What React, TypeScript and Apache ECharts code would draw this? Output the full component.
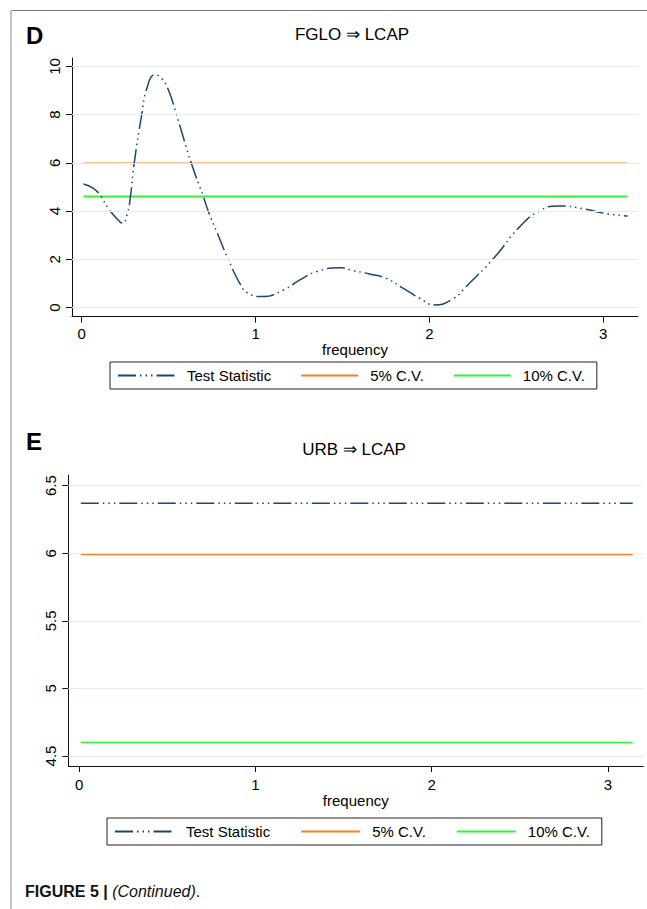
import React, { useEffect, useRef } from "react";
import * as echarts from "echarts";

// ---- Data ----
const seriesNames = ["Test Statistic", "5% C.V.", "10% C.V."];
const xTicks = [0, 1, 2, 3];
const yTicksD = [0, 2, 4, 6, 8, 10];
const yTicksE = [4.5, 5, 5.5, 6, 6.5];
const freqRange = [0.01, 3.14];

// Panel D: FGLO => LCAP
const freqD = [0.01, 0.067, 0.105, 0.153, 0.2, 0.235, 0.262, 0.28, 0.302, 0.345, 0.375, 0.42, 0.46, 0.5, 0.545, 0.63, 0.7, 0.728, 0.785, 0.843, 0.91, 0.956, 1.04, 1.16, 1.255, 1.35, 1.485, 1.56, 1.66, 1.75, 1.85, 1.945, 2.03, 2.14, 2.21, 2.37, 2.52, 2.635, 2.74, 2.9, 3.0, 3.14];
const testStatD = [5.13, 4.95, 4.67, 4.12, 3.71, 3.5, 3.9, 4.6, 6.0, 8.0, 9.1, 9.65, 9.5, 9.0, 8.0, 6.0, 4.6, 4.0, 3.0, 2.0, 1.0, 0.6, 0.46, 0.73, 1.15, 1.49, 1.66, 1.54, 1.39, 1.22, 0.8, 0.39, 0.11, 0.39, 0.87, 2.05, 3.36, 4.02, 4.22, 4.08, 3.92, 3.8];
const cv5D = 5.99;
const cv10D = 4.61;

// Panel E: URB => LCAP
const testStatE = 6.37;
const cv5E = 5.99;
const cv10E = 4.6;

// ---- Styles ----
const FONT = '"Liberation Sans", Arial, Helvetica, sans-serif';
const NAVY = "#1a476f";
const ORANGE = "#f7821b";
const GREEN = "#36f036";
const GRIDC = "#e3eef0";
const DASH = [18, 4, 1.5, 4, 1.5, 4, 1.5, 4];

function flat(v: number): number[][] {
  return freqRange.map((f) => [f, v]);
}

function axisX(gridIndex: number, min: number, labelMargin: number, nameGap: number) {
  return {
    type: "value",
    gridIndex,
    min,
    max: 3.2,
    axisLine: { show: true, onZero: false, lineStyle: { color: "#111", width: 1 } },
    axisTick: { show: true, length: 6, customValues: xTicks, lineStyle: { color: "#111" } },
    axisLabel: { customValues: xTicks, fontSize: 15, color: "#000", fontFamily: FONT, margin: labelMargin },
    splitLine: { show: false },
    name: "frequency",
    nameLocation: "middle",
    nameGap,
    nameTextStyle: { fontSize: 15, color: "#000", fontFamily: FONT },
  };
}

function axisY(gridIndex: number, min: number, max: number, ticks: number[]) {
  return {
    type: "value",
    gridIndex,
    min,
    max,
    axisLine: { show: true, onZero: false, lineStyle: { color: "#111", width: 1 } },
    axisTick: { show: true, length: 6, customValues: ticks, lineStyle: { color: "#111" } },
    axisLabel: { customValues: ticks, rotate: 90, fontSize: 15, color: "#000", fontFamily: FONT, margin: 10 },
    splitLine: { show: false },
  };
}

function gridSeries(idx: number, ticks: number[]) {
  return {
    type: "line",
    name: "grid" + idx,
    xAxisIndex: idx,
    yAxisIndex: idx,
    data: [[0, ticks[0]]],
    symbol: "none",
    lineStyle: { opacity: 0 },
    silent: true,
    z: 1,
    markLine: {
      silent: true,
      symbol: ["none", "none"],
      label: { show: false },
      emphasis: { disabled: true },
      lineStyle: { color: GRIDC, width: 1, type: "solid" },
      data: ticks.map((v) => ({ yAxis: v })),
    },
  };
}

function legendFor(left: number, top: number, itemWidth: number, itemGap: number) {
  return {
    data: seriesNames,
    left,
    top,
    orient: "horizontal",
    itemWidth,
    itemHeight: 14,
    itemGap,
    padding: [6, 12, 6, 7],
    borderColor: "#222",
    borderWidth: 1,
    borderRadius: 0,
    selectedMode: false,
    itemStyle: { opacity: 0 },
    textStyle: { fontSize: 15, color: "#000", fontFamily: FONT, padding: [0, 0, 0, 7] },
  };
}

const option: any = {
  animation: false,
  backgroundColor: "#fff",
  textStyle: { fontFamily: FONT },
  grid: [
    { left: 72, top: 58, width: 566, height: 258.7 },
    { left: 68.3, top: 475, width: 575, height: 291 },
  ],
  xAxis: [axisX(0, -0.056, 9, 22), axisX(1, -0.061, 11, 26)],
  yAxis: [axisY(0, -0.373, 10.35, yTicksD), axisY(1, 4.426, 6.579, yTicksE)],
  legend: [legendFor(110, 362, 57, 29), legendFor(107, 818, 59, 30)],
  series: [
    gridSeries(0, yTicksD),
    gridSeries(1, yTicksE),
    {
      type: "line",
      name: seriesNames[1],
      xAxisIndex: 0,
      yAxisIndex: 0,
      data: flat(cv5D),
      symbol: "none",
      lineStyle: { color: ORANGE, width: 1.4 },
      z: 2,
    },
    {
      type: "line",
      name: seriesNames[2],
      xAxisIndex: 0,
      yAxisIndex: 0,
      data: flat(cv10D),
      symbol: "none",
      lineStyle: { color: GREEN, width: 2 },
      z: 2,
    },
    {
      type: "line",
      name: seriesNames[0],
      xAxisIndex: 0,
      yAxisIndex: 0,
      data: freqD.map((f, i) => [f, testStatD[i]]),
      symbol: "none",
      smooth: 0.5,
      lineStyle: { color: NAVY, width: 1.5, type: DASH },
      z: 3,
    },
    {
      type: "line",
      name: seriesNames[1],
      xAxisIndex: 1,
      yAxisIndex: 1,
      data: flat(cv5E),
      symbol: "none",
      lineStyle: { color: ORANGE, width: 1.4 },
      z: 2,
    },
    {
      type: "line",
      name: seriesNames[2],
      xAxisIndex: 1,
      yAxisIndex: 1,
      data: flat(cv10E),
      symbol: "none",
      lineStyle: { color: GREEN, width: 1.5 },
      z: 2,
    },
    {
      type: "line",
      name: seriesNames[0],
      xAxisIndex: 1,
      yAxisIndex: 1,
      data: flat(testStatE),
      symbol: "none",
      lineStyle: { color: NAVY, width: 1.5, type: DASH },
      z: 3,
    },
  ],
  graphic: [
    { type: "line", shape: { x1: 10, y1: 10.5, x2: 647, y2: 10.5 }, style: { stroke: "#777", lineWidth: 1 }, silent: true },
    { type: "line", shape: { x1: 11, y1: 10, x2: 11, y2: 909 }, style: { stroke: "#c4c4c4", lineWidth: 2 }, silent: true },
    { type: "text", x: 26, y: 35, style: { text: "D", font: `bold 24px ${FONT}`, fill: "#000", textVerticalAlign: "middle" } },
    { type: "text", x: 26, y: 441, style: { text: "E", font: `bold 24px ${FONT}`, fill: "#000", textVerticalAlign: "middle" } },
    { type: "text", x: 352, y: 34, style: { text: "FGLO ⇒ LCAP", font: `17px ${FONT}`, fill: "#000", textAlign: "center", textVerticalAlign: "middle" } },
    { type: "text", x: 354, y: 449, style: { text: "URB ⇒ LCAP", font: `17px ${FONT}`, fill: "#000", textAlign: "center", textVerticalAlign: "middle" } },
    {
      type: "text",
      x: 25,
      y: 891,
      style: {
        text: "{b|FIGURE 5 |} {i|(Continued)}.",
        font: `16px ${FONT}`,
        fill: "#111",
        textVerticalAlign: "middle",
        rich: {
          b: { fontWeight: "bold", fontSize: 16, fontFamily: FONT, fill: "#111" },
          i: { fontStyle: "italic", fontSize: 16, fontFamily: FONT, fill: "#111" },
        },
      },
    },
  ],
};

export default function App() {
  const ref = useRef<HTMLDivElement>(null);
  useEffect(() => {
    document.body.style.margin = "0";
    const chart = echarts.init(ref.current!, null, { renderer: "svg" });
    chart.setOption(option);
    return () => chart.dispose();
  }, []);
  return <div ref={ref} style={{ width: 647, height: 909 }} />;
}
